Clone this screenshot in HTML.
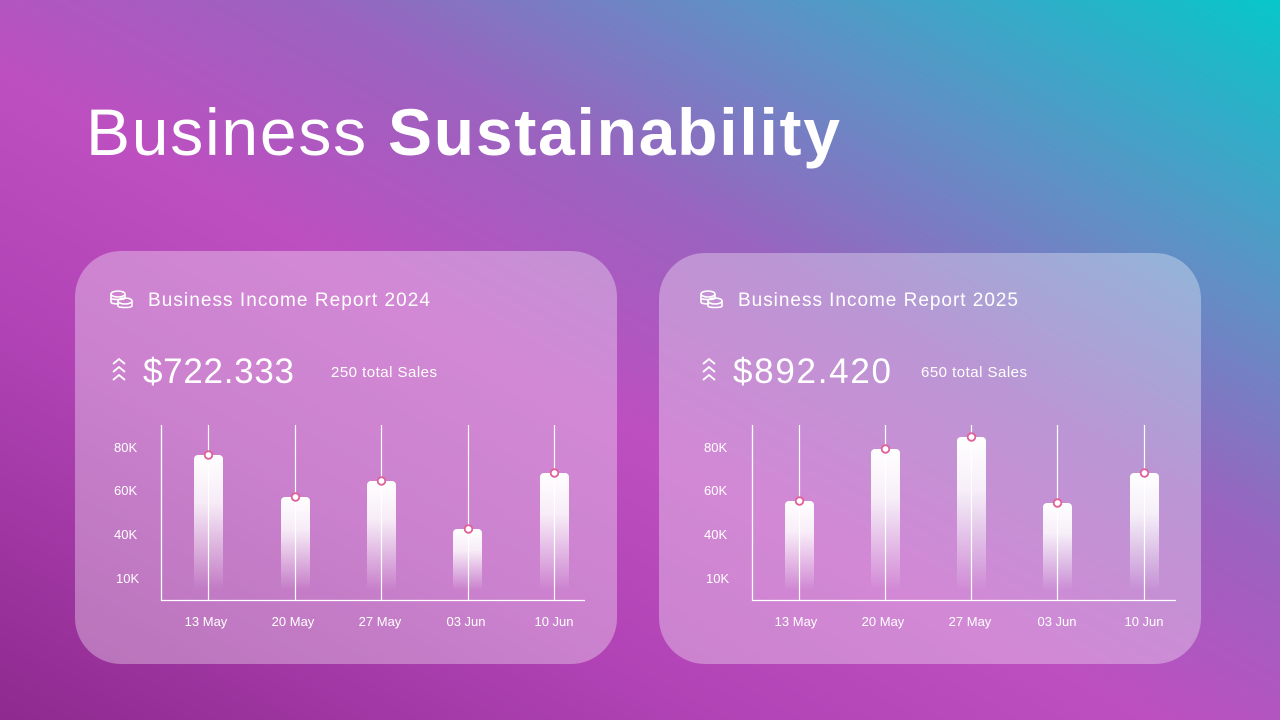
<!DOCTYPE html>
<html><head><meta charset="utf-8"><style>
html,body{margin:0;padding:0;width:1280px;height:720px;overflow:hidden}
body{background:linear-gradient(to top right,#8e2a8f 0%,#b143b6 28%,#bd4fc0 45%,#9a63bf 62%,#5a94c6 80%,#06c7c9 100%);font-family:"Liberation Sans",sans-serif}
svg{position:absolute;left:0;top:0}
</style></head><body>
<svg width="1280" height="720" viewBox="0 0 1280 720">
<defs>
<linearGradient id="bar" x1="0" y1="0" x2="0" y2="1">
<stop offset="0" stop-color="#fff" stop-opacity="1"/>
<stop offset="0.35" stop-color="#fff" stop-opacity="0.85"/>
<stop offset="1" stop-color="#fff" stop-opacity="0"/>
</linearGradient>
</defs>
<text x="86" y="155" fill="#fff" font-size="66" font-weight="300" textLength="754" lengthAdjust="spacing">Business <tspan font-weight="700">Sustainability</tspan></text>

<rect x="75" y="251" width="542" height="413" rx="46" fill="#fff" fill-opacity="0.33"/>
<rect x="659" y="253" width="542" height="411" rx="46" fill="#fff" fill-opacity="0.33"/>

<g fill="#fff">
<g transform="translate(110,290)" fill="none" stroke="#fff" stroke-width="1.6">
<ellipse cx="8" cy="4" rx="7" ry="3"/><path d="M1 4v4c0 2 14 2 14 0V4"/><path d="M1 8v4c0 2 8 2 8 2"/>
<ellipse cx="15" cy="11" rx="7" ry="3"/><path d="M8 11v5c0 2 14 2 14 0v-5"/>
</g>
<text x="148" y="306" font-size="19" textLength="282" lengthAdjust="spacing">Business Income Report  2024</text>
<path d="M113 364l6-5 6 5M113 372l6-5 6 5M113 380l6-5 6 5" stroke="#fff" stroke-width="1.8" fill="none"/>
<text x="143" y="383" font-size="35" textLength="151" lengthAdjust="spacing">$722.333</text>
<text x="331" y="377" font-size="15" textLength="106" lengthAdjust="spacing">250 total Sales</text>

<g transform="translate(590,0)">
<g transform="translate(110,290)" fill="none" stroke="#fff" stroke-width="1.6">
<ellipse cx="8" cy="4" rx="7" ry="3"/><path d="M1 4v4c0 2 14 2 14 0V4"/><path d="M1 8v4c0 2 8 2 8 2"/>
<ellipse cx="15" cy="11" rx="7" ry="3"/><path d="M8 11v5c0 2 14 2 14 0v-5"/>
</g>
<text x="148" y="306" font-size="19" textLength="280" lengthAdjust="spacing">Business Income Report  2025</text>
<path d="M113 364l6-5 6 5M113 372l6-5 6 5M113 380l6-5 6 5" stroke="#fff" stroke-width="1.8" fill="none"/>
<text x="143" y="383" font-size="35" textLength="158" lengthAdjust="spacing">$892.420</text>
<text x="331" y="377" font-size="15" textLength="106" lengthAdjust="spacing">650 total Sales</text>
</g>

<g font-size="13">
<text x="114" y="452">80K</text><text x="114" y="495">60K</text><text x="114" y="539">40K</text><text x="116" y="583">10K</text>
<text x="704" y="452">80K</text><text x="704" y="495">60K</text><text x="704" y="539">40K</text><text x="706" y="583">10K</text>
</g>
<g font-size="13" text-anchor="middle">
<text x="206" y="626">13 May</text><text x="293" y="626">20 May</text><text x="380" y="626">27 May</text><text x="466" y="626">03 Jun</text><text x="554" y="626">10 Jun</text>
<text x="796" y="626">13 May</text><text x="883" y="626">20 May</text><text x="970" y="626">27 May</text><text x="1057" y="626">03 Jun</text><text x="1144" y="626">10 Jun</text>
</g>
</g>

<g stroke="#fff" stroke-width="1.3" fill="none">
<path d="M161.5 425V600.5H585"/>
<path d="M752.5 425V600.5H1176"/>
</g>

<g fill="url(#bar)">
<rect x="194" y="455" width="29" height="135" rx="4"/>
<rect x="281" y="497" width="29" height="93" rx="4"/>
<rect x="367" y="481" width="29" height="109" rx="4"/>
<rect x="453" y="529" width="29" height="61" rx="4"/>
<rect x="540" y="473" width="29" height="117" rx="4"/>
<rect x="785" y="501" width="29" height="89" rx="4"/>
<rect x="871" y="449" width="29" height="141" rx="4"/>
<rect x="957" y="437" width="29" height="153" rx="4"/>
<rect x="1043" y="503" width="29" height="87" rx="4"/>
<rect x="1130" y="473" width="29" height="117" rx="4"/>
</g>
<g stroke="#fff" stroke-width="1.2">
<path d="M208.5 425V600M295.5 425V600M381.5 425V600M468.5 425V600M554.5 425V600"/>
<path d="M799.5 425V600M885.5 425V600M971.5 425V600M1057.5 425V600M1144.5 425V600"/>
</g>
<g fill="#fff" stroke="#e0609a" stroke-width="1.8">
<circle cx="208.5" cy="455" r="3.8"/><circle cx="295.5" cy="497" r="3.8"/><circle cx="381.5" cy="481" r="3.8"/><circle cx="468.5" cy="529" r="3.8"/><circle cx="554.5" cy="473" r="3.8"/>
<circle cx="799.5" cy="501" r="3.8"/><circle cx="885.5" cy="449" r="3.8"/><circle cx="971.5" cy="437" r="3.8"/><circle cx="1057.5" cy="503" r="3.8"/><circle cx="1144.5" cy="473" r="3.8"/>
</g>
</svg>
</body></html>
